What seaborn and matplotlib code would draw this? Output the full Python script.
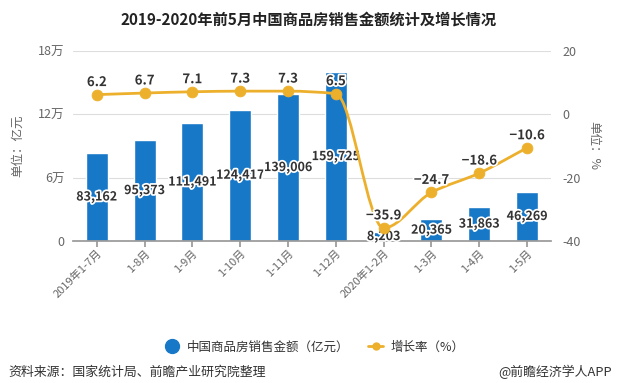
import numpy as np
import pandas as pd
import seaborn as sns
import matplotlib.pyplot as plt
import matplotlib.patheffects as pe
from matplotlib.path import Path
from matplotlib.patches import PathPatch
from matplotlib.lines import Line2D

# 数据
months = ['2019年1-7月', '1-8月', '1-9月', '1-10月', '1-11月', '1-12月',
          '2020年1-2月', '1-3月', '1-4月', '1-5月']
sales = [83162, 95373, 111491, 124417, 139006, 159725, 8203, 20365, 31863, 46269]
growth = [6.2, 6.7, 7.1, 7.3, 7.3, 6.5, -35.9, -24.7, -18.6, -10.6]
left_ticks = [0, 60000, 120000, 180000]
left_ticklabels = ['0', '6万', '12万', '18万']
right_ticks = [-40, -20, 0, 20]

blue = '#1878C8'
orange = '#EDB02C'
grey = '#666666'

sns.set_theme(style='white')
plt.rcParams['font.family'] = ['Noto Sans CJK SC', 'DejaVu Sans']

fig = plt.figure(figsize=(6.17, 3.83), dpi=100)
ax = fig.add_axes([0.118, 0.371, 0.775, 0.496])

df = pd.DataFrame({'month': months, 'sales': sales, 'growth': growth})
sns.barplot(data=df, x='month', y='sales', color=blue, saturation=1,
            width=0.46, ax=ax)
ax.set_ylim(0, 180000)
ax.set_xlim(-0.5, 9.5)
ax.set_yticks(left_ticks)
ax.set_yticklabels(left_ticklabels, color=grey, fontsize=9)
ax.yaxis.grid(True, color='#DDDDDD', linewidth=0.8)
ax.set_axisbelow(True)
ax.set_xlabel('')
ax.set_ylabel('单位：亿元', color=grey, fontsize=9, labelpad=10)
for s in ['top', 'right', 'left']:
    ax.spines[s].set_visible(False)
ax.spines['bottom'].set_color('#999999')
ax.tick_params(axis='y', length=0, pad=6)
ax.tick_params(axis='x', length=4, color='#999999', bottom=True, pad=1)
ax.set_xticks(range(len(months)))
ax.set_xticklabels(months, rotation=45, ha='right', rotation_mode='anchor',
                   color=grey, fontsize=8)

stroke = [pe.withStroke(linewidth=2.5, foreground='white')]
for i, v in enumerate(sales):
    ax.text(i, v / 2, f'{v:,}', ha='center', va='center', fontsize=9,
            fontweight='bold', color='#333333', path_effects=stroke)

# 增长率折线（平滑）
ax2 = ax.twinx()
ax2.set_ylim(-40, 20)
ax2.set_yticks(right_ticks)
ax2.set_yticklabels([str(t) for t in right_ticks], color=grey, fontsize=9)
ax2.tick_params(axis='y', length=0, pad=8)
for s in ax2.spines.values():
    s.set_visible(False)
ax2.set_ylabel('单位：%', color=grey, fontsize=9, rotation=-90, labelpad=14)

x = np.arange(len(growth), dtype=float)
y = np.array(growth)
d = np.diff(y)
m = np.zeros_like(y)
m[0], m[-1] = d[0], d[-1]
for i in range(1, len(y) - 1):
    if d[i - 1] * d[i] > 0:
        m[i] = 2 / (1 / d[i - 1] + 1 / d[i])
verts = [(x[0], y[0])]
codes = [Path.MOVETO]
for i in range(len(y) - 1):
    verts += [(x[i] + 1 / 3, y[i] + m[i] / 3),
              (x[i + 1] - 1 / 3, y[i + 1] - m[i + 1] / 3),
              (x[i + 1], y[i + 1])]
    codes += [Path.CURVE4] * 3
ax2.add_patch(PathPatch(Path(verts, codes), fill=False, edgecolor=orange,
                        linewidth=2, zorder=3))
sns.scatterplot(x=x, y=y, color=orange, s=60, edgecolor=orange, ax=ax2,
                zorder=4, legend=False)
for i, g in enumerate(growth):
    ax2.annotate(f'{g}'.replace('-', '−'), (i, g), xytext=(0, 4),
                 textcoords='offset points', ha='center', va='bottom',
                 fontsize=9.5, fontweight='bold', color='#333333',
                 path_effects=stroke, zorder=5)

fig.text(0.5, 0.948, '2019-2020年前5月中国商品房销售金额统计及增长情况',
         ha='center', va='center', fontsize=11, fontweight='bold',
         color='#222222')

handles = [Line2D([], [], marker='o', linestyle='none', color=blue,
                  markersize=10),
           Line2D([], [], marker='o', color=orange, markersize=5,
                  linewidth=2)]
fig.legend(handles, ['中国商品房销售金额（亿元）', '增长率（%）'],
           loc='center', bbox_to_anchor=(0.51, 0.094), ncol=2, frameon=False,
           fontsize=9, handlelength=1.2, handletextpad=0.6,
           columnspacing=1.5, labelcolor='#333333')

fig.text(0.013, 0.028, '资料来源：国家统计局、前瞻产业研究院整理',
         ha='left', va='center', fontsize=9.3, color='#333333')
fig.text(0.992, 0.028, '@前瞻经济学人APP', ha='right', va='center',
         fontsize=9.3, color='#333333')

fig.savefig('out.png', dpi=100)
